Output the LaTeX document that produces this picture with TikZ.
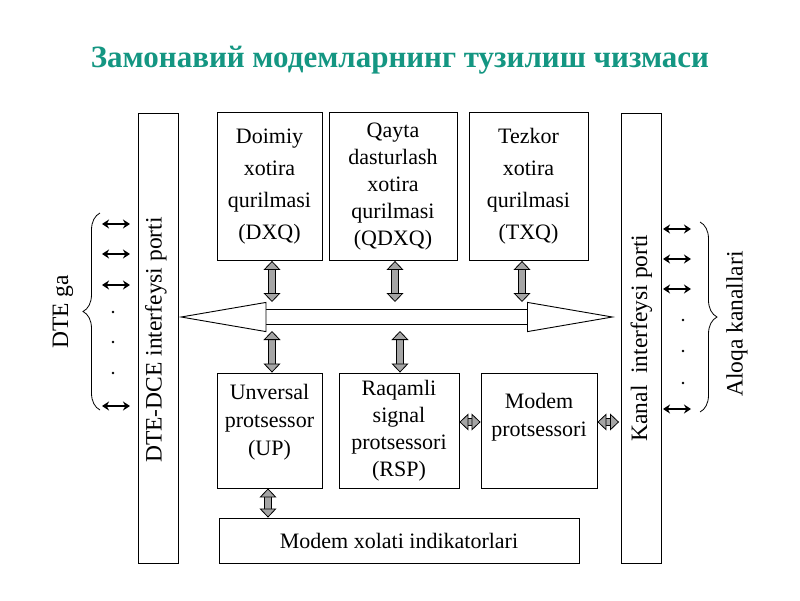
\documentclass[tikz,border=0pt]{standalone}
\usepackage{fontspec}
\setmainfont{Liberation Serif}
\usetikzlibrary{arrows.meta, decorations.pathreplacing}

\definecolor{titlecol}{RGB}{20,150,130}
\definecolor{barcol}{RGB}{165,165,165}

\tikzset{
  unitbox/.style={draw, line width=0.9pt, align=center, inner sep=0pt,
    font=\fontsize{22}{27}\selectfont},
  boxtext/.style={align=center, inner sep=0pt, font=\fontsize{22}{28}\selectfont},
  portbox/.style={draw, line width=0.9pt, inner sep=0pt, minimum width=40pt,
    minimum height=450pt},
  porttext/.style={rotate=90, font=\fontsize{23.5}{26}\selectfont},
  gbar/.style={double=barcol, double distance=5.5pt, line width=0.8pt,
    {Triangle[fill=barcol, length=9pt, width=17pt, line width=0.8pt]}-{Triangle[fill=barcol, length=9pt, width=17pt, line width=0.8pt]}},
  busarrow/.style={double=white, double distance=14pt, line width=0.9pt,
    {Triangle[fill=white, length=88pt, width=30pt, line width=0.9pt]}-{Triangle[fill=white, length=88pt, width=30pt, line width=0.9pt]}},
  line/.style={line width=1.4pt, {Stealth[length=7pt, width=9pt]}-{Stealth[length=7pt, width=9pt]}},
  brace/.style={decorate, decoration={brace, amplitude=17pt}, line width=0.8pt}
}

\begin{document}
\begin{tikzpicture}[x=1pt, y=-1pt]
  \useasboundingbox (0,0) rectangle (800,600);

  \node[text=titlecol, font=\fontsize{31}{34}\selectfont\bfseries] (title) at (400,60)
    {Замонавий модемларнинг тузилиш чизмаси};

  \node[portbox] (dte) at (158,338) {};
  \node[porttext] (dtetext) at (156,340) {DTE-DCE interfeysi porti};
  \node[portbox] (kanal) at (641.5,338) {};
  \node[porttext] (kanaltext) at (kanal.center) {Kanal\ \ interfeysi porti};

  \node[unitbox, minimum width=105pt, minimum height=148pt,
    font=\fontsize{22}{32}\selectfont] (dxq) at (269.5,186.5)
    {Doimiy\\xotira\\qurilmasi\\(DXQ)};
  \node[unitbox, minimum width=128pt, minimum height=148pt] (qdxq) at (393,186.5)
    {Qayta\\dasturlash\\xotira\\qurilmasi\\(QDXQ)};
  \node[unitbox, minimum width=119pt, minimum height=148pt,
    font=\fontsize{22}{32}\selectfont] (txq) at (528.5,186.5)
    {Tezkor\\xotira\\qurilmasi\\(TXQ)};

  \node[unitbox, minimum width=105pt, minimum height=115pt] (up) at (269.5,430.5) {};
  \node[boxtext] (uptext) at ([yshift=8pt]up.center) {Unversal\\protsessor\\(UP)};
  \node[unitbox, minimum width=120pt, minimum height=115pt] (rsp) at (399,430.5)
    {Raqamli\\signal\\protsessori\\(RSP)};
  \node[unitbox, minimum width=116pt, minimum height=115pt] (mp) at (539,430.5) {};
  \node[boxtext] (mptext) at ([yshift=13pt]mp.center) {Modem\\protsessori};
  \node[unitbox, minimum width=360pt, minimum height=45pt] (ind) at (399,540.5)
    {Modem xolati indikatorlari};

  \draw[busarrow] (dte.east |- 0,317) -- ([xshift=-6pt]kanal.west |- 0,317);
  \coordinate (bustop) at (0,302);
  \coordinate (busbot) at (0,331);

  \draw[gbar] (dxq.south -| 272,0) -- (272,0 |- bustop);
  \draw[gbar] (qdxq.south -| 395,0) -- (395,0 |- bustop);
  \draw[gbar] (txq.south -| 522,0) -- (522,0 |- bustop);
  \draw[gbar] (272,0 |- busbot) -- (up.north -| 272,0);
  \draw[gbar] (400,0 |- busbot) -- (rsp.north -| 400,0);
  \draw[gbar] (up.south -| 268,0) -- (ind.north -| 268,0);
  \draw[gbar] (rsp.east |- 0,422) -- (mp.west |- 0,422);
  \draw[gbar] (mp.east |- 0,422) -- ([xshift=-2pt]kanal.west |- 0,422);

  \foreach \y [count=\i] in {224,254,285,406} {
    \coordinate (dl\i) at (102,\y);
    \coordinate (dr\i) at (130,\y);
    \draw[line] (dl\i) -- (dr\i);
  }
  \foreach \y in {312,342,373}
    \fill (113,\y) circle (1.4pt);
  \draw[brace] (100,410) -- (100,213);
  \node[porttext] (dtega) at (63,312) {DTE ga};

  \foreach \y [count=\i] in {229,259,289,409} {
    \coordinate (kl\i) at (663,\y);
    \coordinate (kr\i) at (691,\y);
    \draw[line] (kl\i) -- (kr\i);
  }
  \foreach \y in {320,351,383}
    \fill (683,\y) circle (1.4pt);
  \draw[brace] (700,222) -- (700,412);
  \node[porttext] (aloqa) at (737,324) {Aloqa kanallari};
\end{tikzpicture}
\end{document}
